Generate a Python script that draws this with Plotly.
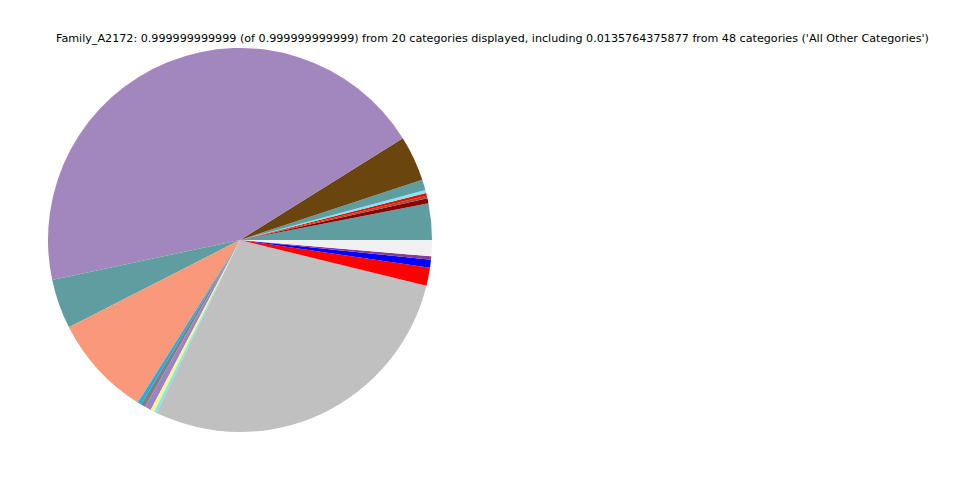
import plotly.graph_objects as go

# slice angles (degrees), converted to fractions
labels = [
    "Cat_01", "Cat_02", "Cat_03", "Cat_04", "Cat_05", "Cat_06", "Cat_07",
    "Cat_08", "Cat_09", "Cat_10", "Cat_11", "Cat_12", "Cat_13", "Cat_14",
    "Cat_15", "Cat_16", "Cat_17", "Cat_18", "Cat_19", "All Other Categories",
]
degrees = [
    11.02, 1.52, 0.80, 0.86, 0.89, 3.21, 13.70,
    160.00, 15.00, 30.85, 1.09, 1.41, 1.93, 1.15,
    0.82, 101.95, 5.49, 2.40, 1.02, 4.89,
]
values = [d / 360.0 for d in degrees]
colors = [
    "#5F9EA0", "#8B0000", "#A0522D", "#FF0000", "#7FE8F2", "#5F9EA0", "#6B450E",
    "#A287BE", "#5F9EA0", "#F9997A", "#1EAEE6", "#808080", "#9B84C6", "#FFF38C",
    "#7FE8F2", "#C0C0C0", "#FF0000", "#0000FF", "#8B3A9A", "#F0F0F0",
]
title_text = ("Family_A2172: 0.999999999999 (of 0.999999999999) from 20 categories displayed, "
              "including 0.0135764375877 from 48 categories ('All Other Categories')")

# plotly places the first counterclockwise slice clockwise of the rotation point,
# so shift by the first slice to start it at 3 o'clock
rotation = 90 - 360.0 * values[0] / sum(values)

fig = go.Figure(go.Pie(
    labels=labels,
    values=values,
    marker=dict(colors=colors, line=dict(width=0)),
    sort=False,
    direction="counterclockwise",
    rotation=rotation,
    textinfo="none",
    hoverinfo="label+percent",
    domain=dict(x=[40 / 960, 424 / 960], y=[1 - 424 / 480, 1 - 40 / 480]),
    showlegend=False,
))

fig.update_layout(
    width=960, height=480,
    margin=dict(l=0, r=0, t=0, b=0),
    paper_bgcolor="white",
    plot_bgcolor="white",
    annotations=[dict(
        text=title_text, x=484.5 / 960, y=1 - 31 / 480, xref="paper", yref="paper",
        xanchor="center", yanchor="middle", showarrow=False,
        font=dict(family="DejaVu Sans", size=11.15, color="black"),
    )],
)

fig.write_html("out.html")
